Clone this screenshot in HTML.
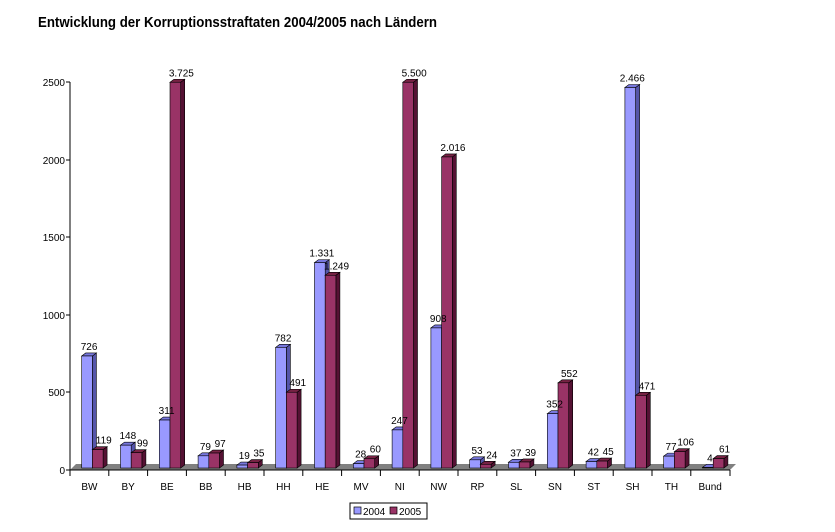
<!DOCTYPE html>
<html><head><meta charset="utf-8"><style>
body{margin:0;background:#fff;width:835px;height:527px;overflow:hidden}
svg{font-family:"Liberation Sans",Arial,sans-serif}
</style></head><body>
<svg id="s" width="835" height="527" xmlns="http://www.w3.org/2000/svg">
<text x="38" y="27" font-size="14.5" font-weight="bold" fill="#000" textLength="399" lengthAdjust="spacingAndGlyphs">Entwicklung der Korruptionsstraftaten 2004/2005 nach Ländern</text>
<polygon points="70,470 730,470 736,464 76,464" fill="#808080"/>
<line x1="70" y1="82" x2="70" y2="470" stroke="#000"/>
<line x1="70" y1="470" x2="730" y2="470" stroke="#000"/>
<g font-size="10" text-anchor="end" fill="#000">
<text x="65" y="474">0</text><text x="65" y="396">500</text><text x="65" y="319">1000</text>
<text x="65" y="241">1500</text><text x="65" y="164">2000</text><text x="65" y="86">2500</text>
</g>
<g stroke="#000"><line x1="66" y1="470" x2="70" y2="470"/><line x1="66" y1="392" x2="70" y2="392"/><line x1="66" y1="315" x2="70" y2="315"/><line x1="66" y1="237" x2="70" y2="237"/><line x1="66" y1="160" x2="70" y2="160"/><line x1="66" y1="82" x2="70" y2="82"/></g>
<g id="bars"></g>
<rect x="350" y="503" width="77" height="16" fill="#fff" stroke="#000"/>
<rect x="354" y="507" width="7" height="7" fill="#9999ff" stroke="#000" stroke-width="0.7"/>
<text x="363" y="515" font-size="10">2004</text>
<rect x="390" y="507" width="7" height="7" fill="#993366" stroke="#000" stroke-width="0.7"/>
<text x="399" y="515" font-size="10">2005</text>
</svg>
<script>
var d=[["BW",726,119],["BY",148,99],["BE",311,3725],["BB",79,97],["HB",19,35],["HH",782,491],["HE",1331,1249],["MV",28,60],["NI",247,5500],["NW",908,2016],["RP",53,24],["SL",37,39],["SN",352,552],["ST",42,45],["SH",2466,471],["TH",77,106],["Bund",4,61]];
var g=document.getElementById("bars"),h="",tx="";
function f(v){return v>=1000?Math.floor(v/1000)+"."+String(v%1000).padStart(3,"0"):""+v;}
function bar(x,v,c,s,t,off){var hh=Math.min(v,2500)*0.1543,top=468-hh,w=10.7;
h+='<polygon points="'+(x+w)+','+468+' '+(x+w+4)+','+465+' '+(x+w+4)+','+(top-3)+' '+(x+w)+','+top+'" fill="'+s+'" stroke="#000" stroke-width="0.6"/>';
h+='<polygon points="'+x+','+top+' '+(x+4)+','+(top-3)+' '+(x+w+4)+','+(top-3)+' '+(x+w)+','+top+'" fill="'+t+'" stroke="#000" stroke-width="0.6"/>';
h+='<rect x="'+x+'" y="'+top+'" width="'+w+'" height="'+hh+'" fill="'+c+'" stroke="#000" stroke-width="0.6"/>';
tx+='<text x="'+(x+w/2+off)+'" y="'+(top-6)+'" font-size="10" text-anchor="middle">'+f(v)+'</text>';}
for(var i=0;i<d.length;i++){var b=70+38.8*i;
h+='<line x1="'+b+'" y1="470" x2="'+b+'" y2="476" stroke="#000"/>';
bar(b+11.7,d[i][1],"#9999ff","#5555aa","#7777dd",2);
bar(b+22.4,d[i][2],"#993366","#551133","#772244",6);
tx+='<text x="'+(b+19.4)+'" y="490" font-size="10" text-anchor="middle">'+d[i][0]+'</text>';}
h+='<line x1="730" y1="470" x2="730" y2="476" stroke="#000"/>';
g.innerHTML=h+tx;
</script>
</body></html>
